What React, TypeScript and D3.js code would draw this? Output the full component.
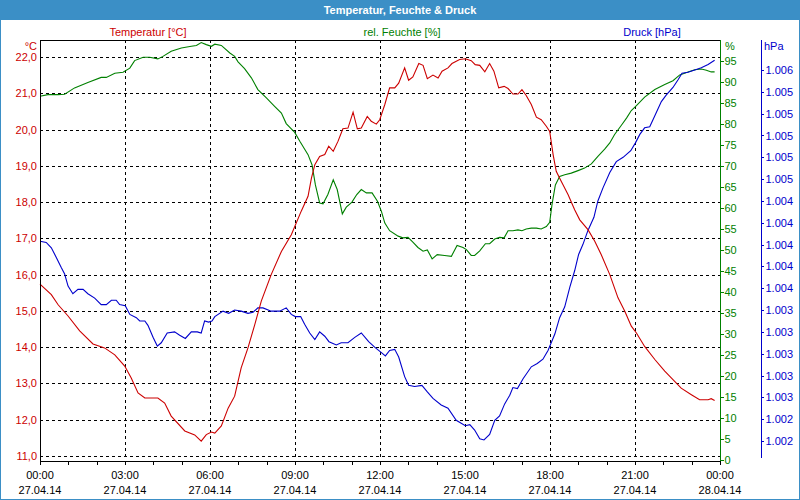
import React, { useEffect, useRef } from "react";
import * as d3 from "d3";

// [hour of day, value]
const tempData: [number, number][] = [
  [0, 15.74], [0.4, 15.45], [0.64, 15.17], [0.99, 14.86], [1.4, 14.45], [1.87, 14.09], [2.28, 13.98],
  [2.64, 13.79], [2.99, 13.48], [3.22, 13.15], [3.46, 12.74], [3.7, 12.6], [4.16, 12.6], [4.4, 12.46],
  [4.63, 12.1], [5.11, 11.69], [5.46, 11.58], [5.69, 11.41], [5.87, 11.59], [6.05, 11.66], [6.17, 11.63],
  [6.4, 11.83], [6.64, 12.32], [6.87, 12.65], [7.1, 13.43], [7.34, 13.98], [7.58, 14.62], [7.81, 15.27],
  [8.16, 16.0], [8.52, 16.64], [8.87, 17.1], [9.22, 17.75], [9.46, 18.16], [9.58, 18.66], [9.7, 19.03],
  [9.87, 19.26], [10.05, 19.31], [10.19, 19.54], [10.35, 19.4], [10.52, 19.68], [10.69, 20.02], [10.87, 20.04],
  [11.05, 20.48], [11.2, 20.02], [11.34, 20.04], [11.55, 20.36], [11.69, 20.23], [11.87, 20.15], [11.99, 20.27],
  [12.17, 20.69], [12.34, 21.15], [12.52, 21.15], [12.66, 21.28], [12.87, 21.7], [13.01, 21.36], [13.16, 21.45],
  [13.37, 21.82], [13.52, 21.77], [13.67, 21.4], [13.87, 21.5], [14.05, 21.42], [14.19, 21.61], [14.4, 21.7],
  [14.54, 21.82], [14.81, 21.93], [15.01, 21.95], [15.22, 21.9], [15.36, 21.79], [15.52, 21.77], [15.7, 21.59],
  [15.87, 21.82], [16.02, 21.61], [16.19, 21.15], [16.38, 21.19], [16.52, 21.13], [16.69, 20.98], [16.87, 20.98],
  [17.01, 21.1], [17.16, 20.94], [17.34, 20.69], [17.52, 20.34], [17.69, 20.27], [17.87, 20.09], [17.99, 19.95],
  [18.11, 19.31], [18.22, 18.85], [18.4, 18.57], [18.64, 18.2], [18.87, 17.79], [19.05, 17.51], [19.34, 17.24],
  [19.58, 16.92], [19.81, 16.55], [20.11, 16.0], [20.4, 15.36], [20.64, 14.99], [20.87, 14.58], [21.05, 14.39],
  [21.34, 14.02], [21.7, 13.66], [22.05, 13.34], [22.4, 13.06], [22.63, 12.87], [22.99, 12.69], [23.28, 12.55],
  [23.58, 12.55], [23.69, 12.58], [23.81, 12.53],
];

const humidityData: [number, number][] = [
  [0, 86.6], [0.28, 87.0], [0.64, 87.0], [0.87, 87.1], [1.22, 88.6], [1.69, 89.9], [2.16, 91.1], [2.34, 91.1],
  [2.64, 92.1], [2.93, 92.3], [3.17, 93.3], [3.34, 95.1], [3.64, 95.9], [3.87, 95.9], [4.16, 95.5], [4.34, 96.1],
  [4.63, 97.3], [4.99, 98.1], [5.34, 98.5], [5.52, 98.7], [5.69, 99.4], [5.87, 98.9], [6.05, 98.5], [6.17, 99.0],
  [6.4, 98.7], [6.7, 96.9], [6.87, 96.1], [6.99, 94.8], [7.22, 93.2], [7.46, 91.0], [7.69, 88.2], [7.99, 86.2],
  [8.28, 84.2], [8.52, 82.6], [8.69, 80.1], [8.99, 78.0], [9.17, 75.9], [9.46, 72.7], [9.6, 70.3], [9.72, 65.5],
  [9.87, 61.2], [9.99, 61.0], [10.16, 63.2], [10.35, 66.7], [10.49, 64.4], [10.67, 58.6], [10.81, 60.2],
  [11.01, 61.4], [11.18, 63.2], [11.34, 64.4], [11.52, 63.6], [11.72, 63.6], [11.91, 61.6], [12.05, 59.2],
  [12.17, 56.4], [12.34, 54.6], [12.64, 53.3], [12.81, 52.9], [12.99, 53.0], [13.16, 51.9], [13.34, 50.6],
  [13.52, 49.7], [13.67, 50.0], [13.84, 47.9], [14.02, 48.9], [14.28, 48.7], [14.52, 48.5], [14.72, 51.1],
  [14.93, 50.6], [15.05, 50.1], [15.22, 48.7], [15.34, 48.7], [15.52, 49.8], [15.72, 51.5], [15.87, 51.5],
  [16.05, 52.6], [16.22, 53.0], [16.38, 52.9], [16.52, 54.6], [16.69, 54.6], [16.87, 54.8], [17.01, 54.6],
  [17.16, 55.0], [17.34, 55.2], [17.52, 55.2], [17.69, 55.0], [17.87, 55.6], [17.99, 56.6], [18.07, 60.8],
  [18.19, 65.5], [18.34, 67.5], [18.52, 67.9], [18.75, 68.3], [18.99, 68.9], [19.22, 69.5], [19.46, 70.5],
  [19.69, 72.3], [19.93, 74.0], [20.11, 75.5], [20.28, 77.5], [20.52, 79.7], [20.7, 81.4], [20.87, 83.2],
  [21.05, 84.4], [21.34, 86.4], [21.7, 88.2], [22.05, 89.4], [22.34, 90.3], [22.58, 91.7], [22.87, 92.4],
  [23.11, 92.9], [23.34, 93.1], [23.52, 92.8], [23.69, 92.4], [23.81, 92.4],
];

const pressureData: [number, number][] = [
  [0, 1004.03], [0.22, 1004.02], [0.4, 1003.97], [0.58, 1003.88], [0.75, 1003.79], [0.87, 1003.73],
  [0.99, 1003.62], [1.16, 1003.55], [1.34, 1003.59], [1.52, 1003.59], [1.69, 1003.55], [1.93, 1003.51],
  [2.16, 1003.45], [2.34, 1003.45], [2.52, 1003.49], [2.69, 1003.49], [2.81, 1003.45], [3.01, 1003.44],
  [3.17, 1003.36], [3.4, 1003.33], [3.52, 1003.3], [3.7, 1003.3], [3.81, 1003.26], [3.99, 1003.15],
  [4.14, 1003.07], [4.28, 1003.1], [4.49, 1003.19], [4.75, 1003.2], [4.93, 1003.17], [5.13, 1003.14],
  [5.34, 1003.2], [5.55, 1003.2], [5.69, 1003.19], [5.81, 1003.3], [5.95, 1003.29], [6.07, 1003.3],
  [6.17, 1003.34], [6.46, 1003.39], [6.66, 1003.37], [6.87, 1003.4], [7.1, 1003.39], [7.34, 1003.37],
  [7.52, 1003.38], [7.69, 1003.42], [7.87, 1003.42], [8.16, 1003.39], [8.46, 1003.39], [8.69, 1003.42],
  [8.87, 1003.36], [9.01, 1003.34], [9.2, 1003.34], [9.34, 1003.27], [9.52, 1003.19], [9.7, 1003.13],
  [9.87, 1003.2], [10.05, 1003.16], [10.2, 1003.11], [10.46, 1003.08], [10.63, 1003.1], [10.87, 1003.1],
  [11.11, 1003.15], [11.34, 1003.19], [11.6, 1003.11], [11.81, 1003.06], [12.05, 1003.01], [12.19, 1002.98],
  [12.34, 1003.03], [12.52, 1003.04], [12.66, 1002.97], [12.87, 1002.79], [13.01, 1002.71], [13.22, 1002.7],
  [13.48, 1002.71], [13.67, 1002.65], [13.87, 1002.59], [14.16, 1002.53], [14.4, 1002.5], [14.69, 1002.39],
  [15.01, 1002.34], [15.17, 1002.35], [15.34, 1002.3], [15.52, 1002.22], [15.67, 1002.21], [15.87, 1002.26],
  [16.05, 1002.39], [16.22, 1002.43], [16.4, 1002.54], [16.58, 1002.62], [16.69, 1002.69], [16.85, 1002.68],
  [17.05, 1002.77], [17.34, 1002.88], [17.55, 1002.91], [17.75, 1002.95], [17.93, 1003.03], [18.17, 1003.18],
  [18.34, 1003.33], [18.52, 1003.43], [18.7, 1003.61], [18.87, 1003.76], [19.01, 1003.91], [19.16, 1004.0],
  [19.34, 1004.13], [19.55, 1004.25], [19.69, 1004.4], [19.87, 1004.52], [20.11, 1004.66], [20.34, 1004.76],
  [20.58, 1004.8], [20.85, 1004.86], [21.01, 1004.93], [21.17, 1005.01], [21.34, 1005.07], [21.52, 1005.08],
  [21.7, 1005.18], [21.93, 1005.31], [22.1, 1005.37], [22.34, 1005.44], [22.52, 1005.51], [22.66, 1005.57],
  [22.87, 1005.58], [23.11, 1005.6], [23.34, 1005.62], [23.58, 1005.65], [23.81, 1005.69],
];

const tempTicks = [11, 12, 13, 14, 15, 16, 17, 18, 19, 20, 21, 22];
const humidityTicks = [0, 5, 10, 15, 20, 25, 30, 35, 40, 45, 50, 55, 60, 65, 70, 75, 80, 85, 90, 95];
const pressureTicks = [
  1002.2, 1002.4, 1002.6, 1002.8, 1003.0, 1003.2, 1003.4, 1003.6, 1003.8,
  1004.0, 1004.2, 1004.4, 1004.6, 1004.8, 1005.0, 1005.2, 1005.4, 1005.6,
];
const hourTicks = d3.range(0, 25, 1);
const timeLabels = ["00:00", "03:00", "06:00", "09:00", "12:00", "15:00", "18:00", "21:00", "00:00"];
const dateLabels = ["27.04.14", "27.04.14", "27.04.14", "27.04.14", "27.04.14", "27.04.14", "27.04.14", "27.04.14", "28.04.14"];

const title = "Temperatur, Feuchte & Druck";
const FONT = "'Liberation Sans', Arial, sans-serif";
const RED = "#cc0000";
const GREEN = "#008000";
const BLUE = "#0000cc";
const FRAME = "#3b8fc6";

export default function App() {
  const svgRef = useRef<SVGSVGElement>(null);

  useEffect(() => {
    if (!svgRef.current) return;
    const svg = d3.select(svgRef.current);
    svg.selectAll("*").remove();

    const width = 800;
    const height = 500;
    const left = 40, right = 720, top = 40, bottom = 460;

    const x = d3.scaleLinear().domain([0, 24]).range([left, right]);
    const yTemp = d3.scaleLinear().domain([11, 22]).range([456, 57]);
    const yHum = d3.scaleLinear().domain([0, 100]).range([bottom, top]);
    const yPres = d3.scaleLinear().domain([1002.2, 1005.6]).range([441, 70]);

    // frame + title bar
    svg.append("rect").attr("x", 0).attr("y", 0).attr("width", width).attr("height", height).attr("fill", FRAME);
    svg.append("rect").attr("x", 1).attr("y", 20).attr("width", width - 2).attr("height", height - 21).attr("fill", "#ffffff");
    svg.append("text")
      .attr("x", width / 2).attr("y", 14)
      .attr("text-anchor", "middle")
      .attr("fill", "#ffffff")
      .style("font-family", FONT).style("font-size", "11px").style("font-weight", "bold")
      .text(title);

    // series labels
    const seriesLabels: [string, string, number][] = [
      ["Temperatur [°C]", RED, 148],
      ["rel. Feuchte [%]", GREEN, 402],
      ["Druck [hPa]", BLUE, 652],
    ];
    seriesLabels.forEach(([t, c, cx]) => {
      svg.append("text")
        .attr("x", cx).attr("y", 36)
        .attr("text-anchor", "middle")
        .attr("fill", c)
        .style("font-family", FONT).style("font-size", "11px")
        .text(t);
    });

    const g = svg.append("g");

    // grid
    g.selectAll("line.hgrid")
      .data(tempTicks)
      .join("line")
      .attr("x1", left).attr("x2", right)
      .attr("y1", (d) => Math.round(yTemp(d)) + 0.5).attr("y2", (d) => Math.round(yTemp(d)) + 0.5)
      .attr("stroke", "#000").attr("stroke-dasharray", "3,3")
      .attr("shape-rendering", "crispEdges");

    g.selectAll("line.vgrid")
      .data(d3.range(3, 24, 3))
      .join("line")
      .attr("x1", (d) => Math.round(x(d)) + 0.5).attr("x2", (d) => Math.round(x(d)) + 0.5)
      .attr("y1", top).attr("y2", bottom)
      .attr("stroke", "#000").attr("stroke-dasharray", "3,3")
      .attr("shape-rendering", "crispEdges");

    // series
    const lineGen = (yScale: d3.ScaleLinear<number, number>) =>
      d3.line<[number, number]>().x((d) => x(d[0])).y((d) => yScale(d[1]));

    g.append("path").datum(humidityData).attr("fill", "none").attr("stroke", GREEN).attr("stroke-width", 1.1).attr("d", lineGen(yHum));
    g.append("path").datum(pressureData).attr("fill", "none").attr("stroke", BLUE).attr("stroke-width", 1.1).attr("d", lineGen(yPres));
    g.append("path").datum(tempData).attr("fill", "none").attr("stroke", RED).attr("stroke-width", 1.1).attr("d", lineGen(yTemp));

    // plot border (left, top, bottom black)
    g.append("path")
      .attr("d", `M${left + 0.5},${bottom + 0.5}V${top + 0.5}H${right}`)
      .attr("fill", "none").attr("stroke", "#000").attr("shape-rendering", "crispEdges");

    // bottom axis
    const xAxis = g.append("g")
      .attr("transform", `translate(0,${bottom + 0.5})`)
      .call(d3.axisBottom(x).tickValues(hourTicks).tickSize(4).tickSizeOuter(0).tickFormat(() => ""));
    xAxis.selectAll("line, path").attr("stroke", "#000").attr("shape-rendering", "crispEdges");

    const labelHours = d3.range(0, 25, 3);
    labelHours.forEach((h, i) => {
      const t = g.append("text")
        .attr("x", x(h)).attr("text-anchor", "middle").attr("fill", "#000")
        .style("font-family", FONT).style("font-size", "11px");
      t.append("tspan").attr("x", x(h)).attr("y", 479).text(timeLabels[i]);
      t.append("tspan").attr("x", x(h)).attr("y", 494).text(dateLabels[i]);
    });

    // left temperature axis labels
    const tAxis = g.append("g")
      .attr("transform", `translate(${left},0)`)
      .call(d3.axisLeft(yTemp).tickValues(tempTicks).tickSize(0).tickPadding(3)
        .tickFormat((d) => d3.format(".1f")(d as number).replace(".", ",")));
    tAxis.select(".domain").remove();
    tAxis.selectAll("text").attr("fill", RED).style("font-family", FONT).style("font-size", "11px");
    svg.append("text").attr("x", 37).attr("y", 50).attr("text-anchor", "end").attr("fill", RED)
      .style("font-family", FONT).style("font-size", "11px").text("°C");

    // humidity axis (right of plot)
    const hAxis = g.append("g")
      .attr("transform", `translate(${right + 0.5},0)`)
      .call(d3.axisRight(yHum).tickValues(humidityTicks).tickSize(3).tickPadding(1).tickSizeOuter(0));
    hAxis.select(".domain").attr("stroke", GREEN).attr("d", `M0,${top}V${bottom + 0.5}`).attr("shape-rendering", "crispEdges");
    hAxis.selectAll("line").attr("stroke", GREEN).attr("shape-rendering", "crispEdges");
    hAxis.selectAll("text").attr("fill", GREEN).style("font-family", FONT).style("font-size", "11px");
    svg.append("text").attr("x", 725).attr("y", 50).attr("fill", GREEN)
      .style("font-family", FONT).style("font-size", "11px").text("%");

    // pressure axis
    const pAxis = g.append("g")
      .attr("transform", `translate(761.5,0)`)
      .call(d3.axisRight(yPres).tickValues(pressureTicks).tickSize(2).tickPadding(2)
        .tickFormat((d) => "1." + String(Math.round(d as number) - 1000).padStart(3, "0")));
    pAxis.select(".domain").attr("stroke", BLUE).attr("d", `M0,${top}V${bottom - 2}`).attr("shape-rendering", "crispEdges");
    pAxis.selectAll("line").attr("stroke", BLUE).attr("shape-rendering", "crispEdges");
    pAxis.selectAll("text").attr("fill", BLUE).style("font-family", FONT).style("font-size", "11px");
    svg.append("text").attr("x", 764).attr("y", 50).attr("fill", BLUE)
      .style("font-family", FONT).style("font-size", "11px").text("hPa");
  }, []);

  return (
    <svg
      ref={svgRef}
      width={800}
      height={500}
      style={{ position: "absolute", left: 0, top: 0, display: "block" }}
    />
  );
}
